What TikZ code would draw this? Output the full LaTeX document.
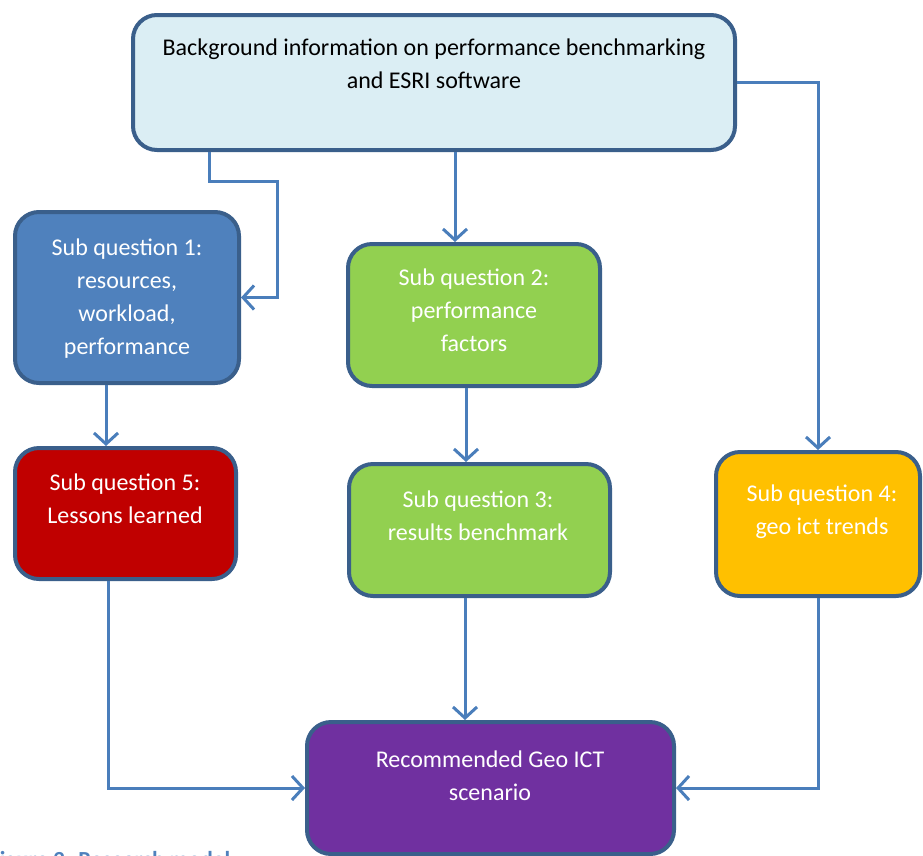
\documentclass[tikz,border=0pt]{standalone}
\usepackage{fontspec}
\setmainfont{Carlito}
\usetikzlibrary{arrows.meta,calc}

\definecolor{edgeblue}{HTML}{3A5F8B}
\definecolor{linkblue}{HTML}{4A7EBB}
\definecolor{bgfill}{HTML}{DBEEF4}
\definecolor{sqblue}{HTML}{4F81BD}
\definecolor{sqgreen}{HTML}{92D050}
\definecolor{sqred}{HTML}{C00000}
\definecolor{sqyellow}{HTML}{FFC000}
\definecolor{sqpurple}{HTML}{7030A0}
\definecolor{capblue}{HTML}{4F81BD}

\tikzset{
  box/.style={draw=edgeblue, line width=4pt, rounded corners=24pt,
    rectangle, inner sep=0pt},
  label/.style={anchor=base, inner sep=0pt, font=\fontsize{24}{33}\selectfont},
  conn/.style={draw=linkblue, line width=3pt,
    -{Straight Barb[length=11pt,width=24pt,line width=3pt]}},
}

\newcommand{\boxtext}[2]{\parbox[t]{#1pt}{\centering #2}}

\begin{document}
\begin{tikzpicture}[x=1pt,y=-1pt]
  \useasboundingbox (0,0) rectangle (923,855);

  % boxes
  \node[box, fill=bgfill, minimum width=602pt, minimum height=135pt] (top) at (434,82.5) {};
  \node[box, fill=sqblue, minimum width=224pt, minimum height=171pt] (q1) at (127,297.5) {};
  \node[box, fill=sqgreen, minimum width=252pt, minimum height=142pt] (q2) at (474,315) {};
  \node[box, fill=sqred, minimum width=221pt, minimum height=131pt] (q5) at (125.5,513.5) {};
  \node[box, fill=sqgreen, minimum width=261pt, minimum height=132pt] (q3) at (479.5,530) {};
  \node[box, fill=sqyellow, minimum width=204pt, minimum height=144pt] (q4) at (818,524) {};
  \node[box, fill=sqpurple, minimum width=367pt, minimum height=132pt] (rec) at (490.5,788) {};

  % box texts
  \node[label, text=black] (topt) at (434,55.5)
    {\boxtext{600}{Background information on performance benchmarking\\and ESRI software}};
  \node[label, text=white] (q1t) at (127,255.5)
    {\boxtext{220}{Sub question 1:\\resources,\\workload,\\performance}};
  \node[label, text=white] (q2t) at (474,285.5)
    {\boxtext{250}{Sub question 2:\\performance\\factors}};
  \node[label, text=white] (q5t) at (125,490.5)
    {\boxtext{220}{Sub question 5:\\Lessons learned}};
  \node[label, text=white] (q3t) at (478,507.5)
    {\boxtext{260}{Sub question 3:\\results benchmark}};
  \node[label, text=white] (q4t) at (822,501.5)
    {\boxtext{200}{Sub question 4:\\geo ict trends}};
  \node[label, text=white] (rect) at (490,767.5)
    {\boxtext{360}{Recommended Geo ICT\\scenario}};

  % connectors
  \draw[conn] ($(top.south west)+(78,0)$) -- ++(0,29)
      -| ($(q1.east)+(36,0)$) -- (q1.east);
  \draw[conn] ($(top.south west)+(324,0)$) -- ($(q2.north west)+(109,0)$);
  \draw[conn] (top.east) -| (q4.north);
  \draw[conn] ($(q1.south west)+(93,0)$) -- ($(q5.north west)+(93,0)$);
  \draw[conn] ($(q2.south west)+(120,0)$) -- ($(q3.north west)+(119,0)$);
  \draw[conn] ($(q5.south west)+(95,0)$) |- (rec.west);
  \draw[conn] ($(q3.south west)+(118,0)$) -- ($(rec.north west)+(160,0)$);
  \draw[conn] (q4.south) |- (rec.east);

  % caption below the figure, running off the lower edge
  \node[anchor=base west, inner sep=0pt, text=capblue,
    font=\fontsize{23}{28}\selectfont\bfseries] (cap) at (-11,867)
    {Figure 2: Research model};
\end{tikzpicture}
\end{document}
